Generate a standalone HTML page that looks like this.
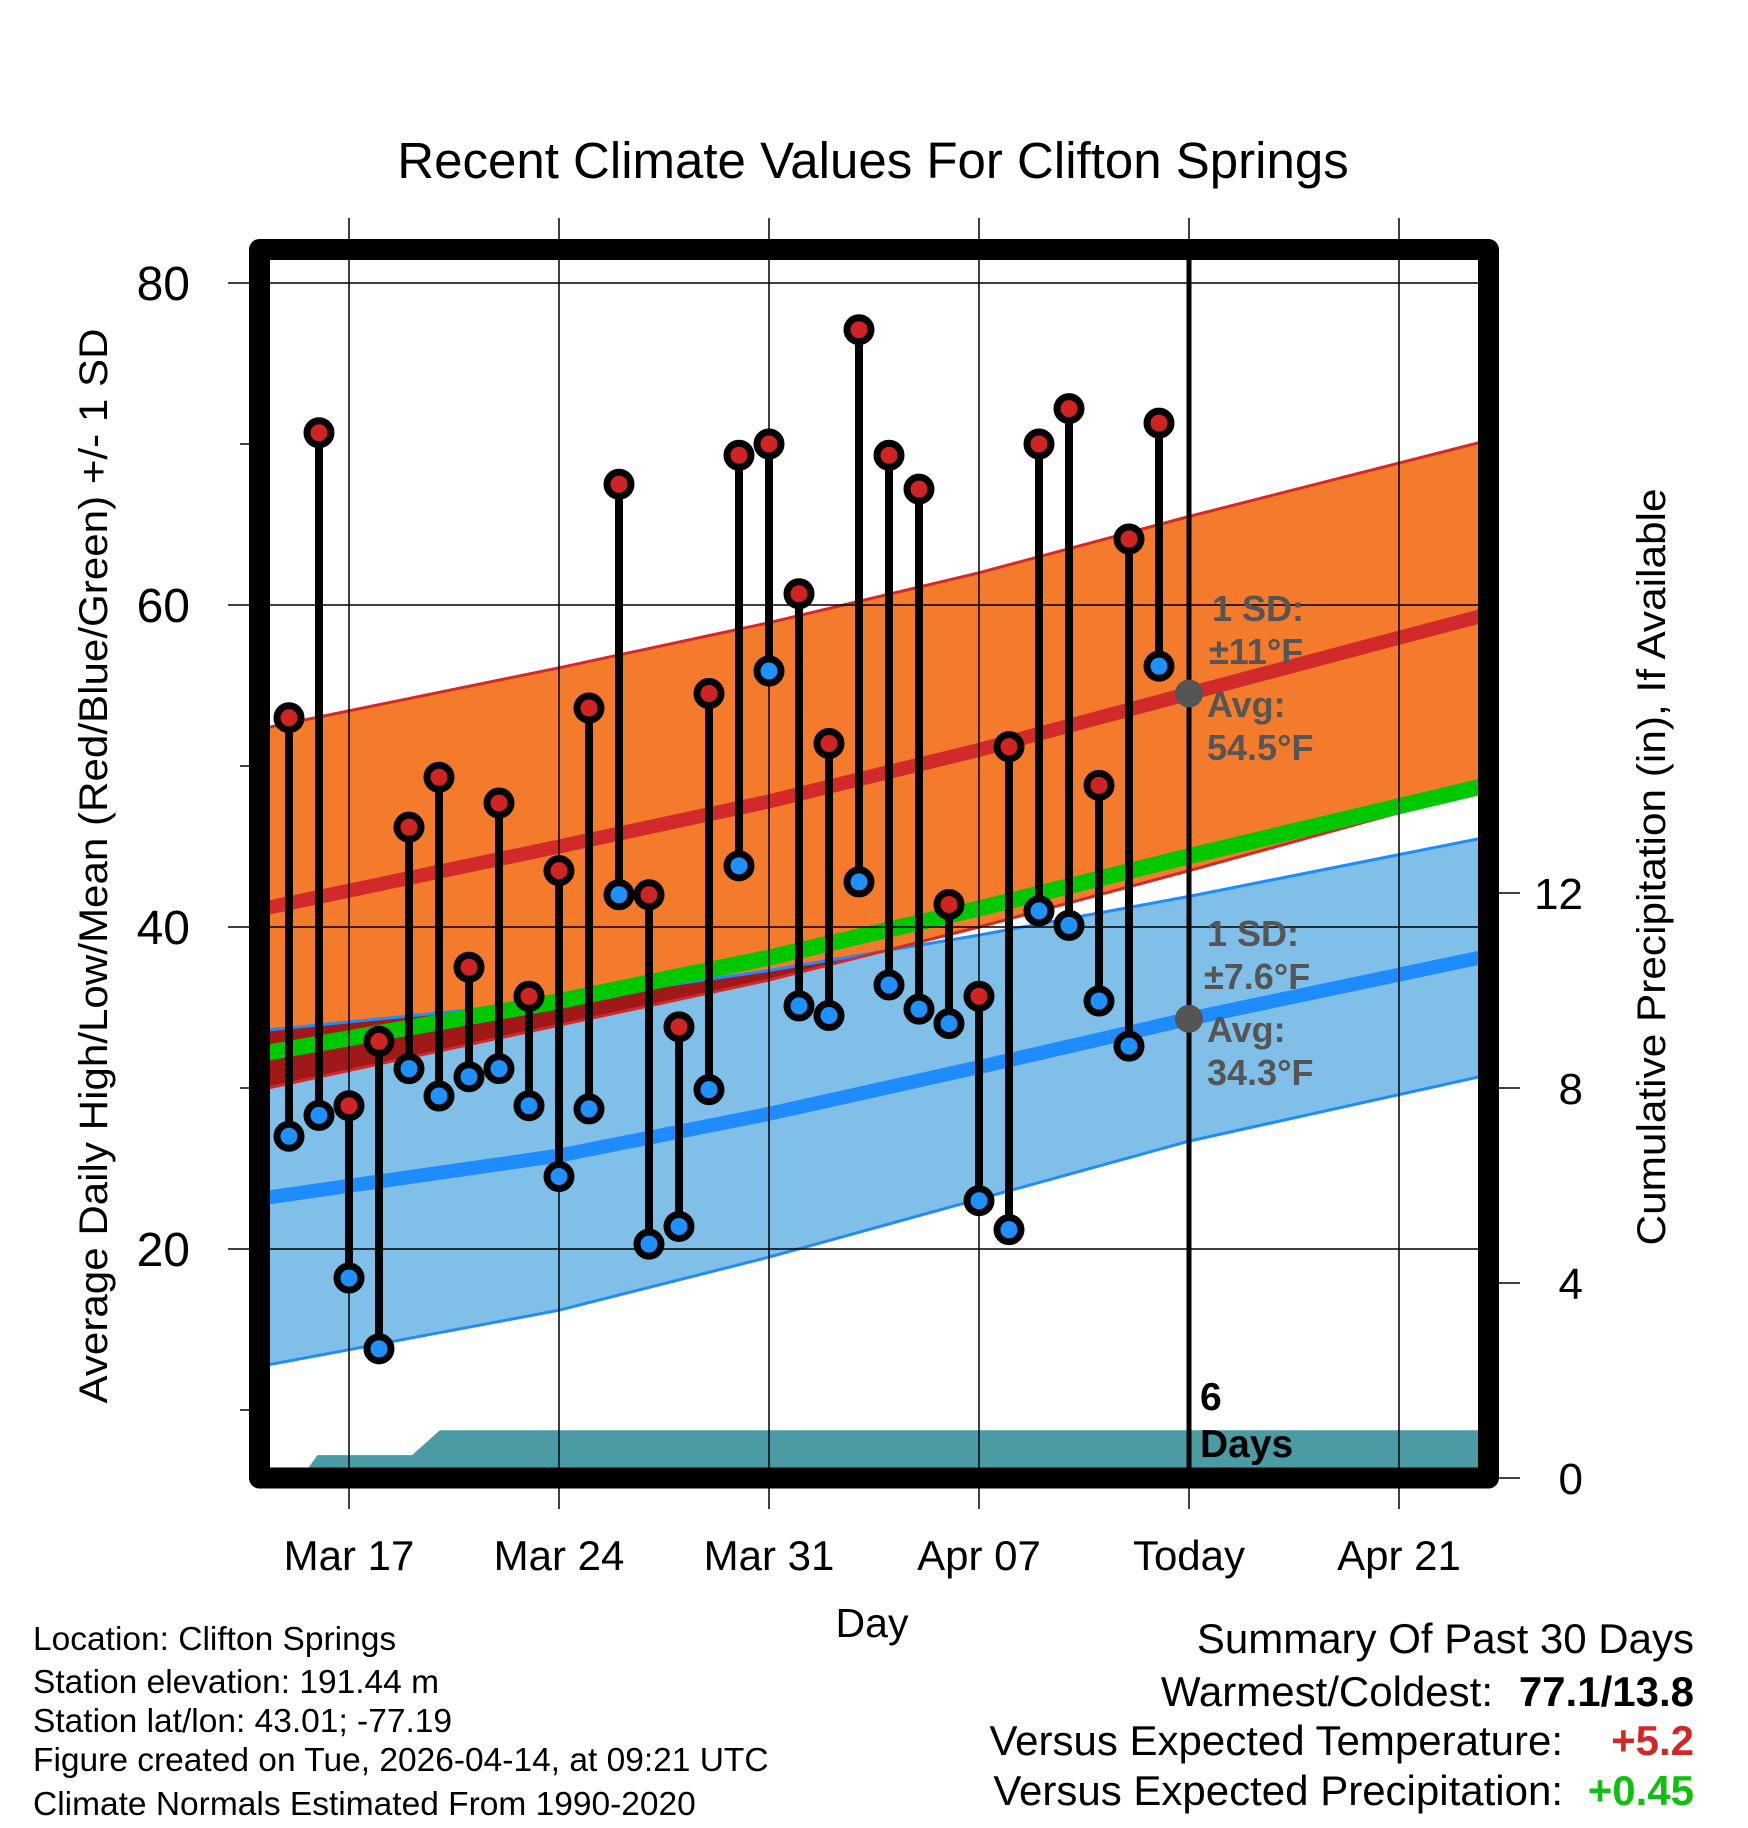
<!DOCTYPE html>
<html><head><meta charset="utf-8"><style>
html,body{margin:0;padding:0;background:#fff;}
svg{display:block;font-family:"Liberation Sans",sans-serif;}
</style></head><body>
<svg id="chart" width="1748" height="1828" viewBox="0 0 1748 1828" xmlns="http://www.w3.org/2000/svg">
<defs><clipPath id="plotclip"><rect x="270" y="260" width="1208" height="1208"/></clipPath></defs>
<text x="873" y="178" font-size="51" text-anchor="middle">Recent Climate Values For Clifton Springs</text>
<g id="bands" clip-path="url(#plotclip)"></g>
<g id="grid"></g>
<g id="marks" clip-path="url(#plotclip)"></g>
<g id="annot">
<g fill="#555" font-weight="bold" font-size="36">
<text x="1212" y="621">1 SD:</text>
<text x="1209" y="664">±11°F</text>
<text x="1207" y="717">Avg:</text>
<text x="1207" y="760">54.5°F</text>
<text x="1207" y="946">1 SD:</text>
<text x="1204" y="989">±7.6°F</text>
<text x="1207" y="1042">Avg:</text>
<text x="1207" y="1085">34.3°F</text>
</g>
<g font-weight="bold" font-size="39" fill="#000">
<text x="1200" y="1410">6</text>
<text x="1200" y="1457">Days</text>
</g>
</g>
<rect x="259.5" y="249.5" width="1229" height="1228.5" fill="none" stroke="#000" stroke-width="21" stroke-linejoin="round"/>
<g id="axes"></g>
<text transform="translate(107,866) rotate(-90)" font-size="40" text-anchor="middle" textLength="1075" lengthAdjust="spacingAndGlyphs">Average Daily High/Low/Mean (Red/Blue/Green) +/- 1 SD</text>
<text transform="translate(1665,867) rotate(-90)" font-size="40" text-anchor="middle" textLength="757" lengthAdjust="spacingAndGlyphs">Cumulative Precipitation (in), If Available</text>
<text x="872" y="1637" font-size="41" text-anchor="middle">Day</text>
<g font-size="33.5">
<text x="33" y="1650">Location: Clifton Springs</text>
<text x="33" y="1693">Station elevation: 191.44 m</text>
<text x="33" y="1732">Station lat/lon: 43.01; -77.19</text>
<text x="33" y="1771">Figure created on Tue, 2026-04-14, at 09:21 UTC</text>
<text x="33" y="1815">Climate Normals Estimated From 1990-2020</text>
</g>
<g font-size="42" text-anchor="end">
<text x="1694" y="1653">Summary Of Past 30 Days</text>
<text x="1493" y="1706">Warmest/Coldest:</text>
<text x="1694" y="1706" font-weight="bold">77.1/13.8</text>
<text x="1563" y="1755">Versus Expected Temperature:</text>
<text x="1694" y="1755" font-weight="bold" fill="#d02828">+5.2</text>
<text x="1563" y="1805">Versus Expected Precipitation:</text>
<text x="1694" y="1805" font-weight="bold" fill="#10c010">+0.45</text>
</g>
</svg>
<script>
// Days relative to Mar 17 (0 = Mar 17, 28 = Today Apr 14)
const obsDays = [-2,-1,0,1,2,3,4,5,6,7,8,9,10,11,12,13,14,15,16,17,18,19,20,21,22,23,24,25,26,27];
const highs = [53.0,70.7,28.9,32.9,46.2,49.3,37.5,47.7,35.7,43.5,53.6,67.5,42.0,33.8,54.5,69.3,70.0,60.7,51.4,77.1,69.3,67.2,41.4,35.7,51.2,70.0,72.2,48.8,64.1,71.3];
const lows = [27.0,28.3,18.2,13.8,31.2,29.5,30.7,31.2,28.9,24.5,28.7,42.0,20.3,21.4,29.9,43.8,55.9,35.1,34.5,42.8,36.4,34.9,34.0,23.0,21.2,41.0,40.1,35.4,32.6,56.2];
const normDays = [-2.7,7,14,21,28,37.7];
const normHigh = [41.2,45.0,47.8,51.0,54.5,59.3];
const sdHigh = [11.2,11.1,11.1,11.0,11.0,10.8];
const normLow = [23.2,25.8,28.4,31.3,34.3,38.1];
const sdLow = [10.4,9.6,8.9,8.2,7.6,7.4];
const precipDays = [-2.7,-1.6,-1.05,0,1,2.1,3.03,10,20,28,37.7];
const precipVals = [0,0,0.47,0.47,0.47,0.47,0.98,0.98,0.98,0.98,0.98];
const xTickDays = [0,7,14,21,28,35];
const xTickLabels = ["Mar 17","Mar 24","Mar 31","Apr 07","Today","Apr 21"];
const yTicks = [20,40,60,80];
const yMinor = [10,30,50,70];
const pTicks = [0,4,8,12];
const todayDay = 28;

const NS = "http://www.w3.org/2000/svg";
const X = d => 349 + d*30;
const Y = v => 283 + (80 - v)*16.1;
const P = p => 1478 - p*48.75;
function mk(tag, attrs, parent){ const e=document.createElementNS(NS,tag); for(const k in attrs) e.setAttribute(k,attrs[k]); parent.appendChild(e); return e; }
function pts(days, vals){ return days.map((d,i)=>X(d).toFixed(1)+","+Y(vals[i]).toFixed(1)); }
const bands = document.getElementById('bands');
const grid = document.getElementById('grid');
const marks = document.getElementById('marks');
const axes = document.getElementById('axes');

const hiU = normHigh.map((v,i)=>v+sdHigh[i]), hiL = normHigh.map((v,i)=>v-sdHigh[i]);
const loU = normLow.map((v,i)=>v+sdLow[i]), loL = normLow.map((v,i)=>v-sdLow[i]);
const mean = normHigh.map((v,i)=>(v+normLow[i])/2);
const rev = a => a.slice().reverse();

let e;
e = mk('polygon',{points: pts(normDays,loU).concat(rev(pts(normDays,loL))).join(' '), fill:'#80c0e8'}, bands);
 
e = mk('polygon',{points: pts(normDays,hiU).concat(rev(pts(normDays,hiL))).join(' '), fill:'#f47a2c'}, bands);
 
const ovDays=[], ovTop=[], ovBot=[];
for(let i=0;i<normDays.length;i++){ if(loU[i]>hiL[i]){ovDays.push(normDays[i]);ovTop.push(loU[i]);ovBot.push(hiL[i]);} }
if(ovDays.length>=1){
  const i=ovDays.length;
  if(i<normDays.length){
    const d0=normDays[i-1], d1=normDays[i];
    const f0=loU[i-1]-hiL[i-1], f1=loU[i]-hiL[i];
    const t=f0/(f0-f1); const dc=d0+t*(d1-d0); const vc=hiL[i-1]+t*(hiL[i]-hiL[i-1]);
    ovDays.push(dc); ovTop.push(vc); ovBot.push(vc);
  }
  e = mk('polygon',{points: pts(ovDays,ovTop).concat(rev(pts(ovDays,ovBot))).join(' '), fill:'#a01818'}, bands);
   
}
e = mk('polyline',{points: pts(normDays,loU).join(' '), fill:'none', stroke:'#1e8cff','stroke-width':3}, bands);
 
e = mk('polyline',{points: pts(normDays,loL).join(' '), fill:'none', stroke:'#1e8cff','stroke-width':3}, bands);
 
e = mk('polyline',{points: pts(normDays,hiU).join(' '), fill:'none', stroke:'#d22a2a','stroke-width':3}, bands);
 
e = mk('polyline',{points: pts(normDays,hiL).join(' '), fill:'none', stroke:'#d22a2a','stroke-width':3}, bands);
 
e = mk('polyline',{points: pts(normDays,mean).join(' '), fill:'none', stroke:'#00c800','stroke-width':16}, bands);
 
e = mk('polyline',{points: pts(normDays,normHigh).join(' '), fill:'none', stroke:'#d22a2a','stroke-width':14}, bands);
 
e = mk('polyline',{points: pts(normDays,normLow).join(' '), fill:'none', stroke:'#1e8cff','stroke-width':14}, bands);
 
const pp = precipDays.map((d,i)=>X(d).toFixed(1)+","+P(precipVals[i]).toFixed(1));
pp.push(X(precipDays[precipDays.length-1]).toFixed(1)+","+P(0)); pp.unshift(X(precipDays[0]).toFixed(1)+","+P(0));
e = mk('polygon',{points: pp.join(' '), fill:'#4a9ba3'}, bands);
 

xTickDays.forEach((d,i)=>{
  const g = mk('line',{x1:X(d),x2:X(d),y1:218,y2:1509,stroke:'#000','stroke-width':1.5}, grid);
   
  const t = mk('text',{x:X(d),y:1570,'font-size':42,'text-anchor':'middle'}, axes);
  t.textContent = xTickLabels[i];
   
});
yTicks.forEach(v=>{
  const g = mk('line',{x1:228,x2:1478,y1:Y(v),y2:Y(v),stroke:'#000','stroke-width':1.5}, grid);
   
  const t = mk('text',{x:190,y:Y(v)+17,'font-size':48,'text-anchor':'end'}, axes);
  t.textContent = v;
   
});
yMinor.forEach(v=>{
  const g = mk('line',{x1:240,x2:250,y1:Y(v),y2:Y(v),stroke:'#000','stroke-width':1.5}, axes);
   
});
pTicks.forEach(p=>{
  const g = mk('line',{x1:1499,x2:1520,y1:P(p),y2:P(p),stroke:'#000','stroke-width':1.5}, axes);
   
  const t = mk('text',{x:1583,y:P(p)+16,'font-size':44,'text-anchor':'end'}, axes);
  t.textContent = p;
   
});

obsDays.forEach((d,i)=>{
  const s = mk('line',{x1:X(d),x2:X(d),y1:Y(highs[i]),y2:Y(lows[i]),stroke:'#000','stroke-width':8}, marks);
   
});
obsDays.forEach((d,i)=>{
  const h = mk('circle',{cx:X(d),cy:Y(highs[i]),r:12,fill:'#d02424',stroke:'#000','stroke-width':7}, marks);
   
  const l = mk('circle',{cx:X(d),cy:Y(lows[i]),r:12,fill:'#1e90ff',stroke:'#000','stroke-width':7}, marks);
   
});
e = mk('line',{x1:X(todayDay),x2:X(todayDay),y1:250,y2:1478,stroke:'#000','stroke-width':5}, marks);
 
const ti = normDays.indexOf(todayDay);
e = mk('circle',{cx:X(todayDay),cy:Y(normHigh[ti]),r:14,fill:'#555'}, marks);
 
e = mk('circle',{cx:X(todayDay),cy:Y(normLow[ti]),r:14,fill:'#555'}, marks);
 
</script>
</body></html>
